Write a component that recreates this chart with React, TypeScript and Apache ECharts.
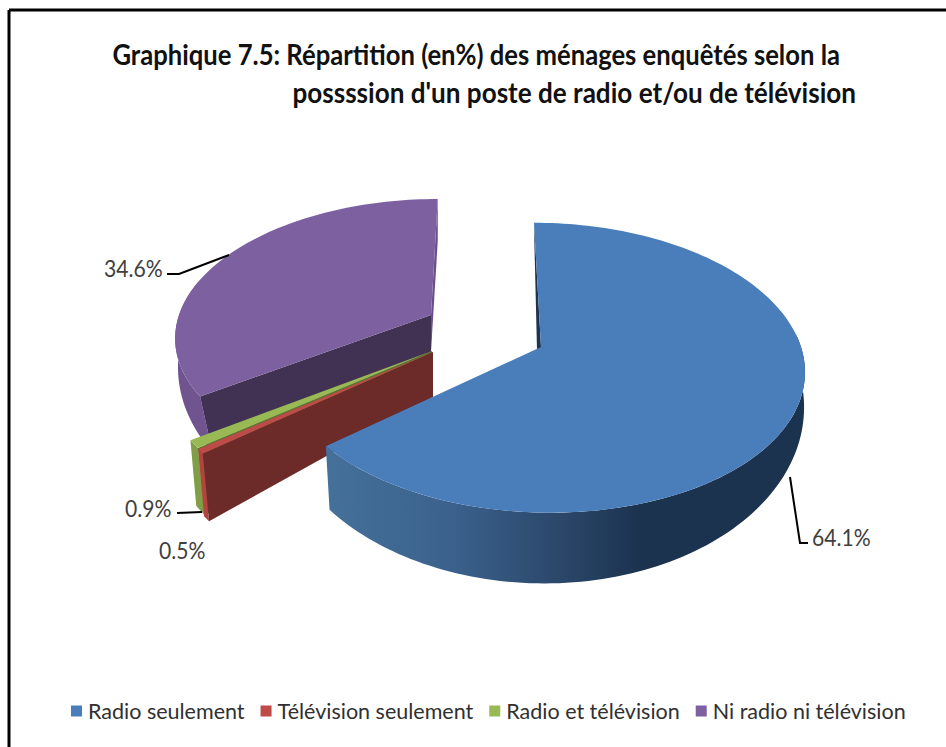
import React, { useEffect, useRef } from "react";
import * as echarts from "echarts";

const categories = ["Radio seulement", "Télévision seulement", "Radio et télévision", "Ni radio ni télévision"];
const shares = [64.1, 0.5, 0.9, 34.6];
const titleLines = [
  "Graphique 7.5: Répartition (en%) des ménages enquêtés selon la",
  "possssion d'un poste de radio et/ou de télévision",
];

const topColors = ["#4a7ebb", "#be4b48", "#98b954", "#7d60a0"];
const wallColors = ["#2f5078", "#b2433f", "#7f9e45", "#6f5490"];
const startFaceColors = ["#1d3350", "#6c2a28", "#5c7330", "#413253"];
const endFaceColors = ["#1d3350", "#6c2a28", "#5c7330", "#6a4f8c"];

// Projection settings of the tilted, exploded pie (layout only).
const VANISH_X = 485;
const sliceLayout = [
  { cx: 541, cy: 347, rx: 260, ry: 142, k: 0.143, bx: 540, bax: 538, by: 391, brx: 263, bry: 178, bk: 0.075, backDy: 4, wallFrom: 85, wallTo: 999 },
  { cx: 433, cy: 352, rx: 265, ry: 145, k: 0.143, bx: 433, bax: 433, by: 397, brx: 273, bry: 186, bk: 0.075, backDy: 40, wallFrom: 0, wallTo: 999 },
  { cx: 432, cy: 351, rx: 264, ry: 145, k: 0.143, bx: 432, bax: 432, by: 396, brx: 271, bry: 186, bk: 0.075, backDy: 40, wallFrom: 0, wallTo: 999 },
  { cx: 431, cy: 315, rx: 252, ry: 132.6, k: 0.143, bx: 436, bax: 431, by: 352, brx: 257, bry: 170, bk: 0.075, backDy: 42, wallFrom: 0, wallTo: 285 },
];
const labelLayout = [
  { x: 812, y: 537, line: [[790, 477], [800, 543], [808, 543]] },
  { x: 159, y: 550, line: [] as number[][] },
  { x: 125, y: 508, line: [[177, 513], [202, 512]] },
  { x: 104, y: 268, line: [[229, 255], [179, 274], [167, 274]] },
];

const total = shares.reduce((a, b) => a + b, 0);
const rad = (d: number) => (d * Math.PI) / 180;

function topPoint(g: any, deg: number) {
  const u = Math.sin(rad(deg));
  const v = Math.cos(rad(deg));
  const s = 1 / (1 + g.k * v);
  return [g.cx + (g.cx - VANISH_X) * (s - 1) + g.rx * u * s, g.cy - g.ry * v * s];
}
function bottomPoint(g: any, deg: number) {
  const u = Math.sin(rad(deg));
  const v = Math.cos(rad(deg));
  const s = 1 / (1 + g.bk * v);
  return [g.bx + (g.bx - VANISH_X) * (s - 1) + g.brx * u * s, g.by - g.bry * v * s];
}
function arc(fn: (g: any, d: number) => number[], g: any, a: number, b: number) {
  const pts: number[][] = [];
  const n = Math.max(2, Math.ceil(Math.abs(b - a) / 1.5));
  for (let i = 0; i <= n; i++) pts.push(fn(g, a + ((b - a) * i) / n));
  return pts;
}

function renderSlice(index: number) {
  return (_params: any, api: any) => {
    const value = api.value(0) as number;
    let before = 0;
    for (let i = 0; i < index; i++) before += shares[i];
    const a0 = (before / total) * 360;
    const a1 = a0 + (value / total) * 360;
    const g = sliceLayout[index];
    const apexB = [g.bax, g.by];
    const children: any[] = [];

    const wa = Math.max(a0, g.wallFrom);
    const wb = Math.min(a1, g.wallTo);
    const wallFill =
      index === 0
        ? {
            type: "linear",
            global: true,
            x: 330,
            y: 0,
            x2: 640,
            y2: 0,
            colorStops: [
              { offset: 0, color: "#447099" },
              { offset: 0.4, color: "#3a618c" },
              { offset: 0.7, color: "#2d4a6e" },
              { offset: 1, color: "#1c334f" },
            ],
          }
        : wallColors[index];
    children.push({
      type: "polygon",
      shape: { points: [...arc(topPoint, g, wa, wb), ...arc(bottomPoint, g, wb, wa)] },
      style: { fill: wallFill },
    });

    const endTop = topPoint(g, a1);
    const startTop = topPoint(g, a0);
    if (index === 3 || index === 0) {
      const backTop = index === 0 ? startTop : endTop;
      children.push({
        type: "polygon",
        shape: { points: [backTop, [g.cx, g.cy], apexB, [backTop[0], backTop[1] + g.backDy]] },
        style: { fill: index === 0 ? startFaceColors[0] : endFaceColors[3] },
      });
    }
    if (index !== 0) {
      children.push({
        type: "polygon",
        shape: { points: [[g.cx, g.cy], apexB, bottomPoint(g, a0), startTop] },
        style: { fill: startFaceColors[index] },
      });
    }
    children.push({
      type: "polygon",
      shape: { points: [[g.cx, g.cy], ...arc(topPoint, g, a0, a1)] },
      style: { fill: topColors[index] },
    });

    const lab = labelLayout[index];
    if (lab.line.length) {
      children.push({
        type: "polyline",
        shape: { points: lab.line },
        style: { stroke: "#000", lineWidth: 2, fill: "none" },
      });
    }
    children.push({
      type: "text",
      x: lab.x,
      y: lab.y,
      scaleX: 0.88,
      style: {
        text: value.toFixed(1) + "%",
        fill: "#404040",
        font: "24px Lato",
        textAlign: "left",
        textVerticalAlign: "middle",
      },
    });
    return { type: "group", children };
  };
}

const zOrder = [5, 4, 3, 2];

export default function App() {
  const ref = useRef<HTMLDivElement>(null);
  useEffect(() => {
    const chart = echarts.init(ref.current!, undefined, { renderer: "svg" });
    chart.setOption({
      animation: false,
      backgroundColor: "#ffffff",
      legend: {
        data: categories,
        left: 71,
        top: 700,
        padding: 0,
        icon: "rect",
        itemWidth: 11,
        itemHeight: 11,
        itemGap: 16,
        selectedMode: false,
        textStyle: { fontFamily: "Lato", fontSize: 21.5, color: "#303030", padding: [0, 0, 0, 1] },
      },
      series: categories.map((name, i) => ({
        type: "custom",
        name,
        coordinateSystem: "none",
        z: zOrder[i],
        silent: true,
        clip: false,
        itemStyle: { color: topColors[i] },
        data: [[shares[i]]],
        renderItem: renderSlice(i),
      })),
      graphic: [
        { type: "line", shape: { x1: 9, y1: 10, x2: 946, y2: 10 }, style: { stroke: "#000", lineWidth: 3 } },
        { type: "line", shape: { x1: 9, y1: 10, x2: 9, y2: 747 }, style: { stroke: "#000", lineWidth: 3 } },
        {
          type: "text",
          x: 840,
          y: 54,
          scaleX: 0.884,
          style: { text: titleLines[0], fill: "#111", font: "bold 29px Lato", textAlign: "right", textVerticalAlign: "middle" },
        },
        {
          type: "text",
          x: 856,
          y: 92,
          scaleX: 0.9,
          style: { text: titleLines[1], fill: "#111", font: "bold 29px Lato", textAlign: "right", textVerticalAlign: "middle" },
        },
      ],
    });
    return () => chart.dispose();
  }, []);
  return <div ref={ref} style={{ position: "absolute", left: 0, top: 0, width: 946, height: 747 }} />;
}
